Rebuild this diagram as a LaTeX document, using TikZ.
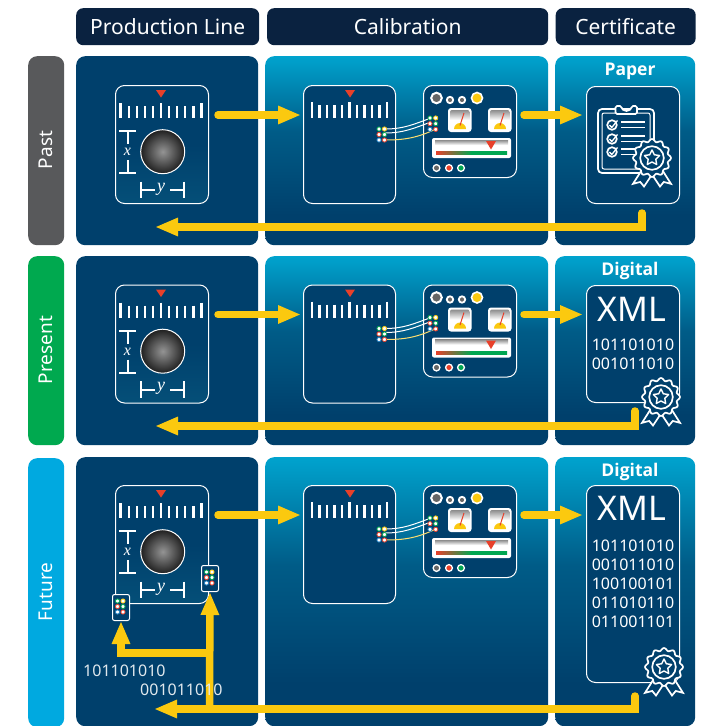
\documentclass[tikz,border=0pt]{standalone}
\usepackage{fontspec}
\setmainfont{Noto Sans}
\newfontfamily\vfont{Liberation Serif}
\newfontfamily\hfont{Open Sans}
\usetikzlibrary{arrows.meta,calc}
\definecolor{navy}{HTML}{0A2240}
\definecolor{deep}{HTML}{00406C}
\definecolor{devfill}{HTML}{0B4D72}
\definecolor{sky}{HTML}{00A3CE}
\definecolor{gold}{HTML}{FBC90F}
\definecolor{redm}{HTML}{E8402A}
\definecolor{greenm}{HTML}{00A651}
\definecolor{bluem}{HTML}{1F7FC1}
\definecolor{pastc}{HTML}{58595B}
\definecolor{presc}{HTML}{00A94F}
\definecolor{futc}{HTML}{00A9E0}
\pgfdeclareverticalshading{panelgrad}{100bp}{color(0bp)=(deep);color(33bp)=(deep);color(55bp)=(deep!72!sky);color(75bp)=(sky);color(100bp)=(sky)}
\pgfdeclareverticalshading{devgrad}{100bp}{color(0bp)=(devfill!80!sky);color(50bp)=(deep);color(100bp)=(deep)}
\pgfdeclareverticalshading{greytop}{100bp}{color(0bp)=(white);color(50bp)=(white);color(75bp)=(black!45);color(100bp)=(black!45)}
\pgfdeclarehorizontalshading{rgbar}{100bp}{color(0bp)=(redm);color(25bp)=(redm);color(50bp)=(greenm);color(100bp)=(greenm)}
\pgfdeclareradialshading{ball}{\pgfpoint{0bp}{0bp}}{color(0bp)=(black!42);color(12bp)=(black!64);color(25bp)=(black!88);color(50bp)=(black)}
\tikzset{
 hdr/.style={fill=navy,rounded corners=7pt,minimum height=37pt,inner sep=0pt,anchor=north west,text=white,font=\fontsize{21}{24}\selectfont},
 panelflat/.style={fill=deep,rounded corners=9pt,inner sep=0pt,anchor=north west},
 panelshade/.style={shading=panelgrad,rounded corners=9pt,inner sep=0pt,anchor=north west},
 side/.style={rounded corners=9pt,inner sep=0pt,anchor=north west,minimum width=36pt},
 sidetxt/.style={text=white,rotate=90,font=\fontsize{19}{22}\selectfont},
 devbox/.style={draw=white,line width=1pt,rounded corners=9pt,inner sep=0pt,anchor=north west},
 ticks/.style={draw=white,line width=2.2pt},
 bracket/.style={draw=white,line width=2pt},
 tri/.style={fill=redm},
 flow/.style={draw=gold,line width=7.5pt,line cap=round,line join=miter,-{Triangle[length=23pt,width=17pt]}},
 wire/.style={draw=white,line width=1pt},
 wirey/.style={draw=gold!60!white,line width=1pt},
 ico/.style={draw=white,line width=1.7pt},
 lab/.style={text=white,inner sep=0pt},
 head/.style={text=white,inner sep=0pt,font=\hfont\bfseries\fontsize{17.5}{18}\selectfont},
 binl/.style={text=white,inner sep=0pt,font=\fontsize{16}{18}\selectfont},
 binlight/.style={text=white!88!deep,inner sep=0pt,font=\fontsize{16}{18}\selectfont},
}
% ruler: x of first tick, step, y of bottom
\newcommand{\rulerticks}[4]{%
 \foreach \k in {0,...,10}{%
  \pgfmathsetmacro{\tx}{#1+#2*\k}
  \pgfmathsetmacro{\ty}{(\k==0||\k==5||\k==10)?#3:#3+3}
  \draw[ticks] (\tx,\ty) -- (\tx,#4);}}
\newcommand{\prodicon}[2]{% name, yoffset
 \begin{scope}[shift={(0,#2)}]
 \node[devbox,shading=devgrad,minimum width=93pt,minimum height=118pt] (#1dev) at (115,85) {};
 \fill[tri] (156,90) -- (166,90) -- (161,97.5) -- cycle;
 \rulerticks{120.5}{8.1}{103}{118}
 \draw[bracket] (119,131) -- (136,131) (127.5,131) -- (127.5,144) (127.5,160) -- (127.5,173) (119,173) -- (136,173);
 \node[lab,font=\vfont\itshape\fontsize{16}{18}\selectfont] (#1x) at (127.5,152) {x};
 \draw[bracket] (141,181.5) -- (141,198) (141,190) -- (155,190) (170,190) -- (184,190) (184,181.5) -- (184,198);
 \node[lab,font=\vfont\itshape\fontsize{18}{18}\selectfont] (#1y) at (161,189) {y};
 \draw[white,line width=1pt,shading=ball] (162.7,151.7) circle (22);
 \end{scope}}
\newcommand{\sixdots}[3]{% x,y,scale spacing
 \foreach \c/\i/\j in {greenm/0/0,gold/1/0,redm/0/1,greenm/1/1,bluem/0/2,redm/1/2}{%
  \draw[\c,line width=.8pt,fill=white] ({#1+#3*\i},{#2+#3*\j}) circle (2.1);}}
\newcommand{\gaugeicon}[2]{% x,y
 \fill[white,rounded corners=3pt] (#1,#2) rectangle ++(23.5,24);
 \begin{scope}
 \clip[rounded corners=2pt] (#1+2,#2+2) rectangle ++(19.5,20);
 \shade[shading=greytop] (#1+2,#2+2) rectangle ++(19.5,20);
 \fill[white] (#1+2,#2+21) rectangle ++(19.5,3);
 \fill[gold] (#1+6,#2+21) arc (180:360:6) -- cycle;
 \end{scope}
 \draw[redm,line width=1pt] (#1+12,#2+17.5) -- (#1+16,#2+5);}
\newcommand{\calicon}[2]{% name, yoffset
 \begin{scope}[shift={(0,#2)}]
 \node[devbox,fill=deep,minimum width=92pt,minimum height=118pt] (#1dev) at (303,85) {};
 \fill[tri] (345,90) -- (355,90) -- (350,97.5) -- cycle;
 \rulerticks{312}{7.5}{102}{118}
 \node[devbox,fill=deep,minimum width=93pt,minimum height=92pt] (#1meter) at (423,85) {};
 \draw[white,line width=2pt,fill=black!60] (436.5,98) circle (5.3);
 \draw[white,line width=1.8pt,fill=black!60] (450,100) circle (3.2);
 \draw[white,line width=1.8pt,fill=black!60] (462,100) circle (3.2);
 \draw[white,line width=1.6pt,fill=gold] (477,98) circle (5.5);
 \gaugeicon{448}{108}
 \gaugeicon{488}{108}
 \fill[white,rounded corners=2pt] (432,138) rectangle (511,158);
 \shade[shading=greytop] (435,140) rectangle (508,150);
 \fill[tri] (486,141) -- (496,141) -- (491,149.5) -- cycle;
 \shade[shading=rgbar] (436,151.5) rectangle (507,154.5);
 \draw[white,line width=1.3pt,fill=black!60] (436.5,168) circle (3.4);
 \draw[white,line width=1.3pt,fill=redm] (449,168) circle (3.4);
 \draw[white,line width=1.3pt,fill=greenm] (461,168) circle (3.4);
 \coordinate (#1wa) at (385,129);
 \coordinate (#1wb) at (385,133);
 \coordinate (#1wc) at (385,140);
 \coordinate (#1wd) at (431,118);
 \coordinate (#1we) at (431,122);
 \coordinate (#1wf) at (436,129);
 \draw[wire] (#1wa) to[out=0,in=200] (#1wd);
 \draw[wire] (#1wb) to[out=0,in=200] (#1we);
 \draw[wirey] (#1wc) to[out=0,in=205] (#1wf);
 \sixdots{379}{129}{5.5}
 \sixdots{430}{118}{5.7}
 \end{scope}}
\newcommand{\sealicon}[3]{% cx,cy,r (outer)
 \begin{scope}[shift={(#1,#2)}]
 \draw[ico,fill=deep] ({-.55*#3},{.65*#3}) -- ({-1*#3},{1.36*#3}) -- ({-.62*#3},{1.26*#3}) -- ({-.42*#3},{1.5*#3}) -- ({-.02*#3},{.9*#3})
   ({.55*#3},{.65*#3}) -- ({1*#3},{1.36*#3}) -- ({.62*#3},{1.26*#3}) -- ({.42*#3},{1.5*#3}) -- ({.02*#3},{.9*#3});
 \draw[ico,fill=deep,smooth] plot[domain=0:360,samples=97] (\x:{#3*(.93+.07*cos(12*\x))}) -- cycle;
 \draw[ico] (0,0) circle ({.62*#3});
 \draw[ico,line width=1.4pt,line join=round] plot[samples at={0,...,9},variable=\k] ({-90+36*\k}:{#3*.42*(1-.5*mod(\k,2))}) -- cycle;
 \end{scope}}
\newcommand{\checkitem}[1]{%
 \draw[ico] (612,#1) circle (4.8);
 \draw[ico,line width=1.3pt] (609.5,#1) -- (611.8,#1+2.5) -- (617.5,#1-4.5);
 \draw[ico,line width=1.6pt] (621,#1-3) -- (645,#1-3) (621,#1+2.5) -- (645,#1+2.5);}
\newcommand{\sixchip}[3]{% name,x,y
 \node[devbox,fill=deep,line width=1pt,rounded corners=2pt,minimum width=17pt,minimum height=26pt] (#1) at (#2,#3) {};
 \sixdots{#2+5.5}{#3+7}{5.5}}
\begin{document}
\begin{tikzpicture}[x=1pt,y=-1pt]
\useasboundingbox (0,0) rectangle (701,726);
\clip (0,0) rectangle (701,726);
\fill[white] (0,0) rectangle (701,726);
% headers
\node[hdr,minimum width=183pt] (h1) at (76,8) {Production Line};
\node[hdr,minimum width=281pt] (h2) at (267,8) {Calibration};
\node[hdr,minimum width=140pt] (h3) at (555.5,8) {Certificate};
% side
\node[side,fill=pastc,minimum height=189pt] (s1) at (28,56) {};
\node[side,fill=presc,minimum height=189pt] (s2) at (28,256) {};
\node[side,fill=futc,minimum height=269pt] (s3) at (28,458) {};
\node[sidetxt] (t1) at (46,150) {Past};
\node[sidetxt] (t2) at (46,350) {Present};
\node[sidetxt] (t3) at (46,592) {Future};
% panels
\foreach \n/\y/\h in {a/56/189,b/256/189,c/457/269}{
 \node[panelflat,minimum width=182pt,minimum height=\h pt] (p1\n) at (76,\y) {};
 \node[panelshade,minimum width=283pt,minimum height=\h pt] (p2\n) at (265,\y) {};
 \node[panelshade,minimum width=140pt,minimum height=\h pt] (p3\n) at (555,\y) {};
}
% devices
\prodicon{ra}{0}
\prodicon{rb}{199.5}
\prodicon{rc}{400}
\calicon{ca}{0}
\calicon{cb}{199.5}
\calicon{cc}{400}
% certificates
\node[devbox,fill=deep,minimum width=93pt,minimum height=117pt] (cert1) at (586,86) {};
\node[devbox,fill=deep,minimum width=93pt,minimum height=117pt] (cert2) at (586,285) {};
\node[devbox,fill=deep,minimum width=93pt,minimum height=197pt] (cert3) at (586,485) {};
\node[head] (n1) at (630,71.5) {Paper};
\node[head] (n2) at (630,270.5) {Digital};
\node[head] (n3) at (630,471.5) {Digital};
% clipboard
\draw[ico,rounded corners=4pt] (598,109) rectangle (654,173);
\draw[white,line width=1pt,rounded corners=2pt] (602,113) rectangle (650,169);
\draw[ico,fill=deep,rounded corners=1.5pt] (615.5,114) -- (615.5,106) -- (621.5,106) arc (180:0:5) -- (637,106) -- (637,114) -- cycle;
\checkitem{125}
\checkitem{139}
\checkitem{152}
\sealicon{652}{158}{19}
% XML
\node[lab,font=\fontsize{34}{36}\selectfont] (x2) at (632,309) {XML};
\node[binl] (b21) at (633,345) {101101010};
\node[binl] (b22) at (633,363.5) {001011010};
\sealicon{661}{397}{19}
\node[lab,font=\fontsize{34}{36}\selectfont] (x3) at (632,508) {XML};
\foreach \i/\s/\y in {1/101101010/546,2/001011010/565,3/100100101/584,4/011010110/603,5/011001101/622}{
 \node[binl] (b3\i) at (633,\y) {\s};}
\sealicon{664}{667}{19}
% flow arrows: coordinates
\foreach \n/\d in {a/0,b/199.5,c/400}{
 \coordinate (f1\n) at (218,115+\d);
 \coordinate (f2\n) at (301,115+\d);
 \coordinate (f3\n) at (524,115+\d);
 \coordinate (f4\n) at (583,115+\d);
 \draw[flow] (f1\n) -- (f2\n);
 \draw[flow] (f3\n) -- (f4\n);
}
\coordinate (r1s) at (642,213);
\coordinate (r1e) at (155,227);
\draw[flow] (r1s) |- (r1e);
\coordinate (r2s) at (635,411);
\coordinate (r2e) at (155,426);
\draw[flow] (r2s) |- (r2e);
\coordinate (r3s) at (635,696);
\coordinate (r3e) at (154,709);
\draw[flow] (r3s) |- (r3e);
% future chips and data
\sixchip{chipa}{112}{594}
\sixchip{chipb}{201}{565}
\coordinate (j1) at (209.5,709);
\coordinate (j2) at (209.5,653);
\draw[flow,line cap=butt] (j1) -- (chipb.south);
\draw[flow,line cap=butt] (j2) -| (chipa.south);
\node[binlight,anchor=west] (d1) at (83,671) {101101010};
\node[binlight,anchor=west] (d2) at (140,690) {001011010};
\end{tikzpicture}
\end{document}
